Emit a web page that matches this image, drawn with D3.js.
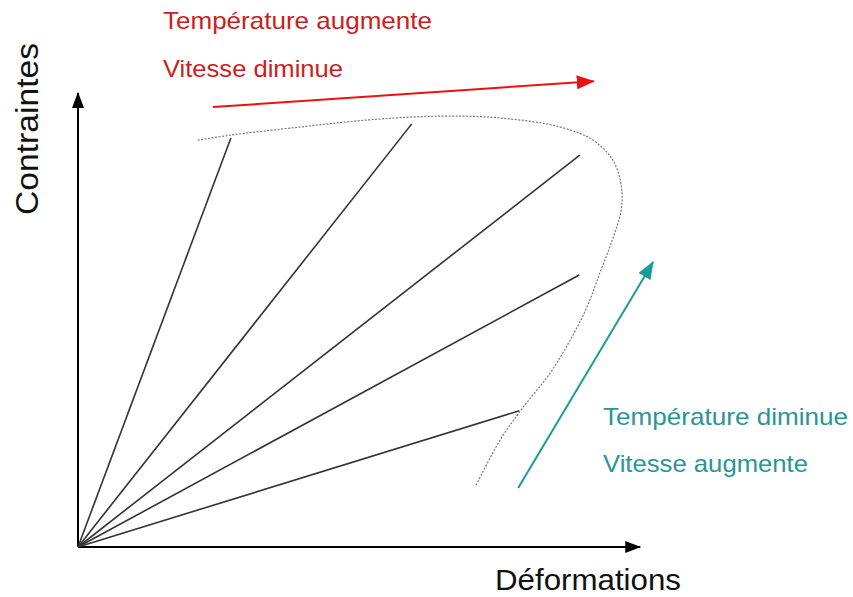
<!DOCTYPE html>
<html>
<head>
<meta charset="utf-8">
<script src="https://cdn.jsdelivr.net/npm/d3@7"></script>
<style>
  body { margin: 0; background: #fff; }
  text { font-family: "Liberation Sans", Arial, sans-serif; }
</style>
</head>
<body>
<div class="chart"></div>
<script>
// SVG size
var svgWidth = 853;
var svgHeight = 597;

// Rays from origin: end point of each loading line (deformation, contrainte)
var rayEndX = [27.3, 59.6, 89.6, 89.5, 78.8];
var rayEndY = [90.1, 93.2, 86.3, 59.9, 30.0];

// Dotted envelope (rupture limit)
var limitX = [21.4, 27.1, 39.6, 52.1, 64.6, 75.4, 86.1, 92.0, 95.5, 97.0, 97.0, 95.4, 93.2, 90.9, 87.9, 84.3, 79.5, 75.4, 70.9];
var limitY = [89.6, 90.7, 92.5, 94.1, 94.9, 94.5, 92.5, 89.6, 85.2, 79.7, 74.2, 67.6, 60.4, 52.9, 45.6, 38.3, 30.8, 23.6, 13.2];

// Trend arrows [start, end]
var redArrowX = [24.1, 92.1];
var redArrowY = [96.9, 102.6];
var tealArrowX = [78.6, 102.7];
var tealArrowY = [13.0, 62.8];

// Labels
var redLabels = ["Température augmente", "Vitesse diminue"];
var tealLabels = ["Température diminue", "Vitesse augmente"];
var xLabel = "Déformations";
var yLabel = "Contraintes";

var svg = d3.select(".chart")
    .append("svg")
    .attr("width", svgWidth)
    .attr("height", svgHeight);

// Scales (origin at bottom-left of axes)
var x = d3.scaleLinear().domain([0, 100]).range([78, 638]);
var y = d3.scaleLinear().domain([0, 100]).range([547, 93]);

// Arrow markers
var defs = svg.append("defs");
function addMarker(id, color, len, half) {
    defs.append("marker")
        .attr("id", id)
        .attr("markerUnits", "userSpaceOnUse")
        .attr("viewBox", "0 " + (-half) + " " + len + " " + (2 * half))
        .attr("markerWidth", len)
        .attr("markerHeight", 2 * half)
        .attr("refX", len - 1)
        .attr("refY", 0)
        .attr("orient", "auto")
        .append("path")
        .attr("d", "M0," + (-half) + "L" + len + ",0L0," + half + "Z")
        .attr("fill", color);
}
addMarker("arrBlack", "#000", 16, 6);
addMarker("arrRed", "#ee1111", 18, 7);
addMarker("arrTeal", "#1a9c9c", 18, 7);

// Axes
svg.append("line")
    .attr("x1", x(0)).attr("y1", y(0))
    .attr("x2", x(0)).attr("y2", y(100))
    .attr("stroke", "#000").attr("stroke-width", 2)
    .attr("marker-end", "url(#arrBlack)");
svg.append("line")
    .attr("x1", x(0)).attr("y1", y(0))
    .attr("x2", x(100.4)).attr("y2", y(0))
    .attr("stroke", "#000").attr("stroke-width", 2)
    .attr("marker-end", "url(#arrBlack)");

// Loading lines
svg.selectAll(".ray")
    .data(rayEndX)
    .enter()
    .append("line")
    .attr("class", "ray")
    .attr("x1", x(0)).attr("y1", y(0))
    .attr("x2", function(d) { return x(d); })
    .attr("y2", function(d, i) { return y(rayEndY[i]); })
    .attr("stroke", "#333")
    .attr("stroke-width", 1.6);

// Dotted limit curve
var line = d3.line()
    .x(function(d) { return x(d[0]); })
    .y(function(d) { return y(d[1]); })
    .curve(d3.curveCatmullRom);
svg.append("path")
    .attr("d", line(limitX.map(function(d, i) { return [d, limitY[i]]; })))
    .attr("fill", "none")
    .attr("stroke", "#777")
    .attr("stroke-width", 1.2)
    .attr("stroke-dasharray", "2,1.5");

// Trend arrows
svg.append("line")
    .attr("x1", x(redArrowX[0])).attr("y1", y(redArrowY[0]))
    .attr("x2", x(redArrowX[1])).attr("y2", y(redArrowY[1]))
    .attr("stroke", "#ee1111").attr("stroke-width", 2)
    .attr("marker-end", "url(#arrRed)");
svg.append("line")
    .attr("x1", x(tealArrowX[0])).attr("y1", y(tealArrowY[0]))
    .attr("x2", x(tealArrowX[1])).attr("y2", y(tealArrowY[1]))
    .attr("stroke", "#1a9c9c").attr("stroke-width", 2)
    .attr("marker-end", "url(#arrTeal)");

// Annotation texts
var redLen = [269, 180];
svg.selectAll(".redLab")
    .data(redLabels)
    .enter()
    .append("text")
    .attr("class", "redLab")
    .attr("x", 163)
    .attr("y", function(d, i) { return 29 + i * 48; })
    .attr("textLength", function(d, i) { return redLen[i]; })
    .attr("lengthAdjust", "spacingAndGlyphs")
    .style("font-size", "24px")
    .attr("fill", "#cc2020")
    .text(function(d) { return d; });

var tealLen = [245, 205];
svg.selectAll(".tealLab")
    .data(tealLabels)
    .enter()
    .append("text")
    .attr("class", "tealLab")
    .attr("x", 603)
    .attr("y", function(d, i) { return 425 + i * 47; })
    .attr("textLength", function(d, i) { return tealLen[i]; })
    .attr("lengthAdjust", "spacingAndGlyphs")
    .style("font-size", "24px")
    .attr("fill", "#2a9595")
    .text(function(d) { return d; });

// Axis labels
svg.append("text")
    .attr("x", 495)
    .attr("y", 590)
    .attr("textLength", 186)
    .attr("lengthAdjust", "spacingAndGlyphs")
    .style("font-size", "29px")
    .attr("fill", "#111")
    .text(xLabel);

svg.append("text")
    .attr("transform", "translate(38,215) rotate(-90)")
    .attr("textLength", 172)
    .attr("lengthAdjust", "spacingAndGlyphs")
    .style("font-size", "31px")
    .attr("fill", "#111")
    .text(yLabel);
</script>
</body>
</html>
